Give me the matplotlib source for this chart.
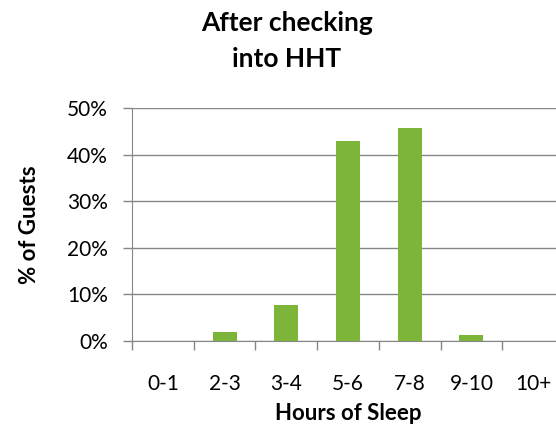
import numpy as np
import matplotlib.pyplot as plt
from matplotlib.ticker import PercentFormatter

# data
categories = ["0-1", "2-3", "3-4", "5-6", "7-8", "9-10", "10+"]
guests_pct = [0.0, 2.0, 7.7, 43.0, 45.7, 1.3, 0.0]

plt.rcParams['font.family'] = ['Lato', 'DejaVu Sans']

fig = plt.figure(figsize=(5.56, 4.29), dpi=100)
# plot area runs slightly past the right edge, as in the reference
ax = fig.add_axes([0.2374, 0.2051, 0.7770, 0.5432])

x = np.arange(len(categories))
ax.bar(x, np.array(guests_pct) / 100, width=0.39, color="#7DB53B", zorder=3)

ax.set_xlim(-0.5, len(categories) - 0.5)
ax.set_ylim(0, 0.5)
ax.set_yticks(np.arange(0, 0.51, 0.1))
ax.yaxis.set_major_formatter(PercentFormatter(1.0, decimals=0))
ax.grid(axis="y", color="#868686", linewidth=1, zorder=0)

# tick marks on category boundaries, labels at the centres
ax.set_xticks(np.arange(-0.5, len(categories), 1.0))
ax.set_xticklabels([])
ax.set_xticks(x, minor=True)
ax.set_xticklabels(categories, minor=True)
ax.tick_params(axis="x", which="major", length=6.5, color="#868686", width=1)
ax.tick_params(axis="x", which="minor", length=0, pad=23.5, labelsize=15, labelcolor="#000000")
ax.tick_params(axis="y", length=6.5, color="#868686", width=1, pad=11, labelsize=15)

for s in ["top", "right"]:
    ax.spines[s].set_visible(False)
for s in ["left", "bottom"]:
    ax.spines[s].set_color("#868686")

ax.set_xlabel("Hours of Sleep", fontsize=16, fontweight="bold", labelpad=7)
ax.set_ylabel("% of Guests", fontsize=16, fontweight="bold", labelpad=19)

fig.text(0.516, 1 - 23 / 429, "After checking", ha="center", va="center",
         fontsize=19, fontweight="bold")
fig.text(0.516, 1 - 59 / 429, "into HHT", ha="center", va="center",
         fontsize=19, fontweight="bold")

fig.savefig("out.png", dpi=100)
